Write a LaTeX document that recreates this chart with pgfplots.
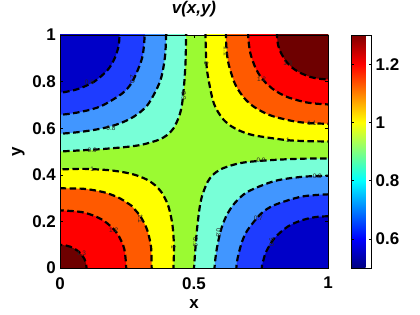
\documentclass[border=0pt]{standalone}
\usepackage{fontspec}
\setmainfont{Liberation Sans}
\usepackage{pgfplots}
\pgfplotsset{compat=1.18}
\definecolor{cDB}{RGB}{0,0,200}
\definecolor{cB}{RGB}{30,60,255}
\definecolor{cLB}{RGB}{65,150,255}
\definecolor{cC}{RGB}{120,255,215}
\definecolor{cG}{RGB}{155,250,50}
\definecolor{cY}{RGB}{255,255,0}
\definecolor{cO}{RGB}{255,90,0}
\definecolor{cR}{RGB}{255,0,0}
\definecolor{cDR}{RGB}{110,0,0}
\pgfplotsset{
  cl/.style={smooth, draw=black, line width=2.2bp, dash pattern=on 6.5bp off 3.5bp},
  band/.style={cl, fill=#1},
}
\newcommand{\bigf}{\fontsize{17}{20}\selectfont\bfseries}
\begin{document}
\begin{tikzpicture}
\useasboundingbox (0,0) rectangle (420bp,315bp);
\begin{axis}[
  at={(60bp,47bp)}, anchor=south west,
  scale only axis, width=268bp, height=233bp,
  xmin=0, xmax=1, ymin=0, ymax=1,
  axis on top,
  axis background/.style={fill=cG},
  xtick={0,0.5,1}, xticklabels={0,0.5,1},
  ytick={0,0.2,0.4,0.6,0.8,1}, yticklabels={0,0.2,0.4,0.6,0.8,1},
  tick align=inside, major tick length=3bp,
  tick style={black, line width=0.5bp},
  ticklabel style={font=\bigf, inner sep=0pt},
  xticklabel style={anchor=north, yshift=-9bp},
  yticklabel style={anchor=east, xshift=-4bp},
  title={v(x,y)},
  title style={font=\bigf\itshape, at={(0.5,1.0687)}, anchor=base, inner sep=0pt},
  xlabel={x},
  xlabel style={font=\bigf, at={(0.5,-0.1717)}, anchor=base, inner sep=0pt},
  ylabel={y},
  ylabel style={font=\bigf, at={(-0.1455,0.5)}, anchor=base, inner sep=0pt},
  colormap/jet, point meta min=0.5, point meta max=1.3,
  colorbar,
  colorbar style={
    at={(parent axis.north east)}, anchor=north west, xshift=15bp,
    scale only axis, width=20bp, height=233bp,
    ytick={0.6,0.8,1,1.2}, yticklabels={0.6,0.8,1,1.2},
    ytick pos=both, yticklabel pos=right,
    tick align=inside, major tick length=2.5bp,
    yticklabel style={font=\bigf, anchor=west, inner sep=0pt, xshift=4bp},
  },
]
% ---- sublevel regions, bottom-right and top-left corners ----
\addplot[band=cC] coordinates {(0.5,-0.1)(0.5,0)(0.503,0.048)(0.51,0.152)(0.52,0.251)(0.53,0.309)(0.55,0.368)(0.57,0.399)(0.60,0.424)(0.65,0.444)(0.70,0.455)(0.80,0.464)(0.90,0.469)(1,0.47)(1.1,0.47)(1.2,-0.2)} --cycle;
\addplot[band=cC] coordinates {(-0.1,0.5)(0,0.5)(0.048,0.503)(0.152,0.51)(0.251,0.52)(0.309,0.53)(0.368,0.55)(0.399,0.57)(0.424,0.60)(0.444,0.65)(0.455,0.70)(0.464,0.80)(0.469,0.90)(0.47,1)(0.47,1.1)(-0.2,1.2)} --cycle;
\addplot[band=cLB] coordinates {(0.5765,-0.1)(0.5765,0)(0.585,0.082)(0.60,0.161)(0.62,0.222)(0.65,0.276)(0.70,0.327)(0.80,0.373)(0.90,0.391)(1,0.396)(1.1,0.396)(1.2,-0.2)} --cycle;
\addplot[band=cLB] coordinates {(-0.1,0.5765)(0,0.5765)(0.082,0.585)(0.161,0.60)(0.222,0.62)(0.276,0.65)(0.327,0.70)(0.373,0.80)(0.391,0.90)(0.396,1)(0.396,1.1)(-0.2,1.2)} --cycle;
\addplot[band=cB] coordinates {(0.658,-0.1)(0.658,0)(0.665,0.054)(0.68,0.115)(0.70,0.163)(0.75,0.233)(0.80,0.270)(0.90,0.306)(1,0.316)(1.1,0.316)(1.2,-0.2)} --cycle;
\addplot[band=cB] coordinates {(-0.1,0.658)(0,0.658)(0.054,0.665)(0.115,0.68)(0.163,0.70)(0.233,0.75)(0.270,0.80)(0.306,0.90)(0.316,1)(0.316,1.1)(-0.2,1.2)} --cycle;
\addplot[band=cDB] coordinates {(0.753,-0.1)(0.753,0)(0.76,0.038)(0.77,0.072)(0.80,0.128)(0.85,0.178)(0.90,0.204)(0.95,0.218)(1,0.222)(1.1,0.222)(1.2,-0.2)} --cycle;
\addplot[band=cDB] coordinates {(-0.1,0.753)(0,0.753)(0.038,0.76)(0.072,0.77)(0.128,0.80)(0.178,0.85)(0.204,0.90)(0.218,0.95)(0.222,1)(0.222,1.1)(-0.2,1.2)} --cycle;
% ---- superlevel regions, bottom-left and top-right corners ----
\addplot[band=cY] coordinates {(0.4235,-0.1)(0.4235,0)(0.4254,0.09)(0.42,0.181)(0.41,0.242)(0.40,0.279)(0.38,0.323)(0.355,0.355)(0.323,0.38)(0.279,0.40)(0.242,0.41)(0.181,0.42)(0.09,0.4254)(0,0.4235)(-0.1,0.4235)(-0.2,-0.2)} --cycle;
\addplot[band=cY] coordinates {(0.543,1.1)(0.543,1)(0.545,0.907)(0.55,0.837)(0.57,0.721)(0.59,0.669)(0.61,0.637)(0.623,0.623)(0.637,0.61)(0.669,0.59)(0.721,0.57)(0.837,0.55)(0.907,0.545)(1,0.543)(1.1,0.543)(1.2,1.2)} --cycle;
\addplot[band=cO] coordinates {(0.342,-0.1)(0.342,0)(0.34,0.087)(0.33,0.145)(0.32,0.179)(0.30,0.222)(0.28,0.25)(0.267,0.267)(0.25,0.28)(0.222,0.30)(0.179,0.32)(0.145,0.33)(0.087,0.34)(0,0.342)(-0.1,0.342)(-0.2,-0.2)} --cycle;
\addplot[band=cO] coordinates {(0.619,1.1)(0.619,1)(0.622,0.929)(0.63,0.871)(0.65,0.798)(0.67,0.756)(0.69,0.726)(0.707,0.707)(0.726,0.69)(0.756,0.67)(0.798,0.65)(0.871,0.63)(0.929,0.622)(1,0.619)(1.1,0.619)(1.2,1.2)} --cycle;
\addplot[band=cR] coordinates {(0.247,-0.1)(0.247,0)(0.24,0.081)(0.22,0.136)(0.2,0.167)(0.184,0.184)(0.167,0.2)(0.136,0.22)(0.081,0.24)(0,0.247)(-0.1,0.247)(-0.2,-0.2)} --cycle;
\addplot[band=cR] coordinates {(0.702,1.1)(0.702,1)(0.71,0.923)(0.73,0.857)(0.75,0.819)(0.77,0.792)(0.781,0.781)(0.792,0.77)(0.819,0.75)(0.857,0.73)(0.923,0.71)(1,0.702)(1.1,0.702)(1.2,1.2)} --cycle;
\addplot[band=cDR] coordinates {(0.099,-0.1)(0.099,0)(0.0915,0.0379)(0.070,0.070)(0.0379,0.0915)(0,0.099)(-0.1,0.099)(-0.2,-0.2)} --cycle;
\addplot[band=cDR] coordinates {(0.8095,1.1)(0.8095,1)(0.814,0.956)(0.82,0.934)(0.84,0.892)(0.863,0.863)(0.892,0.84)(0.934,0.82)(0.956,0.814)(1,0.8095)(1.1,0.8095)(1.2,1.2)} --cycle;
% ---- contour labels ----
\tikzset{lab/.style={font=\fontsize{6.5}{7}\selectfont, inner sep=0pt, text=black!85}}
\node[lab] at (axis cs:0.11,0.795) {0.6};
\node[lab, rotate=90] at (axis cs:0.27,0.81) {0.7};
\node[lab] at (axis cs:0.19,0.598) {0.8};
\node[lab, rotate=-90] at (axis cs:0.462,0.74) {0.9};
\node[lab] at (axis cs:0.12,0.505) {0.9};
\node[lab] at (axis cs:0.12,0.425) {1};
\node[lab, rotate=-90] at (axis cs:0.30,0.21) {1.1};
\node[lab] at (axis cs:0.20,0.16) {1.2};
\node[lab] at (axis cs:0.08,0.065) {1.3};
\node[lab, rotate=-90] at (axis cs:0.424,0.09) {1};
\node[lab, rotate=-90] at (axis cs:0.505,0.11) {0.9};
\node[lab, rotate=-90] at (axis cs:0.592,0.15) {0.8};
\node[lab] at (axis cs:0.74,0.215) {0.7};
\node[lab, rotate=90] at (axis cs:0.79,0.11) {0.6};
\node[lab] at (axis cs:0.75,0.462) {0.9};
\node[lab] at (axis cs:0.96,0.395) {0.8};
\node[lab, rotate=-90] at (axis cs:0.62,0.93) {1.1};
\node[lab, rotate=-90] at (axis cs:0.546,0.88) {1};
\node[lab] at (axis cs:0.85,0.878) {1.3};
\node[lab] at (axis cs:0.752,0.81) {1.2};
\node[lab] at (axis cs:0.94,0.62) {1.1};
\node[lab] at (axis cs:0.85,0.547) {1};
\end{axis}
\end{tikzpicture}
\end{document}
